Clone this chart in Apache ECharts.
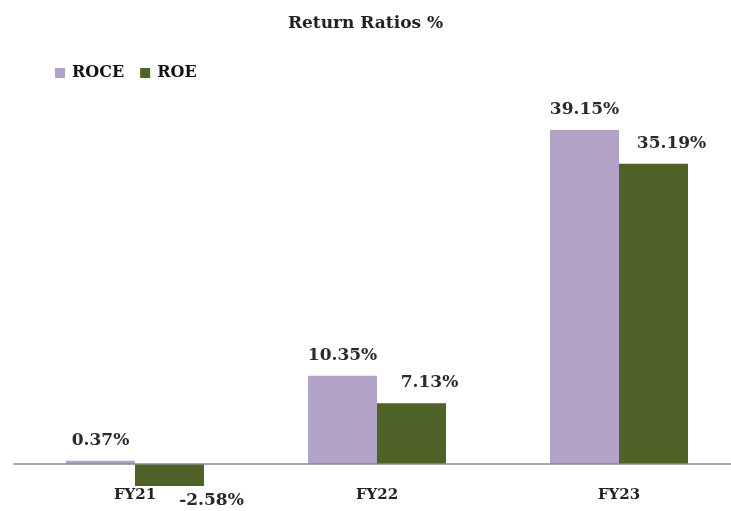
<!DOCTYPE html>
<html>
<head>
<meta charset="utf-8">
<script src="https://cdn.jsdelivr.net/npm/echarts@6/dist/echarts.min.js"></script>
<style>
  html, body { margin: 0; padding: 0; background: #fff; }
  #main { width: 731px; height: 511px; }
</style>
</head>
<body>
<div id="main"></div>
<script>
const years = ["FY21", "FY22", "FY23"];
const roce = [0.37, 10.35, 39.15];
const roe = [-2.58, 7.13, 35.19];

const font = "DejaVu Serif";
let chart = echarts.init(document.getElementById("main"));

let option = {
  animation: false,
  title: {
    text: "Return Ratios %",
    left: "center",
    top: 10,
    textStyle: { fontFamily: font, fontWeight: "bold", fontSize: 17, color: "#222" }
  },
  legend: {
    left: 50,
    top: 60,
    icon: "rect",
    itemWidth: 10,
    itemHeight: 10,
    itemGap: 16,
    textStyle: { fontFamily: font, fontWeight: "bold", fontSize: 16, color: "#111", padding: [0, 0, 0, 2] },
    data: ["ROCE", "ROE"]
  },
  // zero line sits at the grid bottom; the negative bar is drawn below it unclipped
  grid: { left: 14, top: 80, width: 726, height: 384, outerBoundsMode: "none", containLabel: false },
  xAxis: {
    type: "category",
    data: years,
    z: 5,
    axisTick: { show: false },
    axisLine: { lineStyle: { color: "#8a8a8a", width: 1.5 } },
    axisLabel: { margin: 24, fontFamily: font, fontWeight: "bold", fontSize: 15, color: "#222" }
  },
  yAxis: {
    type: "value",
    min: 0,
    max: 45,
    show: false,
    splitLine: { show: false }
  },
  series: [
    {
      name: "ROCE",
      type: "bar",
      clip: false,
      barWidth: 69,
      barGap: "0%",
      itemStyle: { color: "#b3a2c7" },
      label: {
        show: true,
        position: "top",
        distance: 12,
        fontFamily: font, fontWeight: "bold", fontSize: 17, color: "#2a2a2a",
        formatter: p => p.value.toFixed(2) + "%"
      },
      data: roce
    },
    {
      name: "ROE",
      type: "bar",
      clip: false,
      barWidth: 69,
      itemStyle: { color: "#4f6228" },
      label: {
        show: true,
        position: "top",
        distance: 12,
        offset: [18, 0],
        fontFamily: font, fontWeight: "bold", fontSize: 17, color: "#2a2a2a",
        formatter: p => p.value.toFixed(2) + "%"
      },
      data: roe.map(v => v < 0 ? { value: v, label: { position: "bottom", distance: 6, offset: [42, 0] } } : v)
    }
  ]
};
chart.setOption(option);
</script>
</body>
</html>
